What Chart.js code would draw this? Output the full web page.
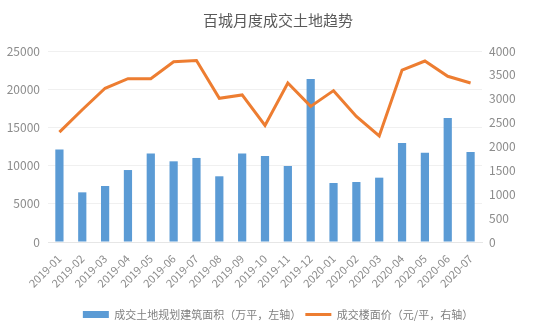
<!DOCTYPE html>
<html>
<head>
<meta charset="utf-8">
<script src="https://cdn.jsdelivr.net/npm/chart.js@4/dist/chart.umd.min.js"></script>
<style>
  html, body { margin: 0; padding: 0; background: #fff; }
  #wrap { width: 556px; height: 335px; }
</style>
</head>
<body>
<div id="wrap"><canvas id="landChart" width="556" height="335"></canvas></div>
<script>
// monthly land deals across 100 cities
const months = ['2019-01', '2019-02', '2019-03', '2019-04', '2019-05', '2019-06', '2019-07',
    '2019-08', '2019-09', '2019-10', '2019-11', '2019-12', '2020-01', '2020-02', '2020-03',
    '2020-04', '2020-05', '2020-06', '2020-07'];
// planned floor area, 10k m2 (left axis)
const areaValues = [12100, 6500, 7330, 9420, 11600, 10560, 11000, 8600, 11600, 11260,
    9950, 21330, 7720, 7850, 8420, 12960, 11690, 16230, 11780];
// floor price, yuan/m2 (right axis)
const priceValues = [2300, 2770, 3220, 3420, 3420, 3775, 3800, 3010, 3080, 2440,
    3330, 2840, 3170, 2630, 2220, 3600, 3790, 3470, 3330];

const font = '"Noto Sans CJK SC", "Noto Sans", sans-serif';
const tickColor = '#8c8c8c';

new Chart(document.getElementById('landChart'), {
    data: {
        labels: months,
        datasets: [{
            type: 'line',
            label: '成交楼面价（元/平，右轴）',
            data: priceValues,
            yAxisID: 'y1',
            borderColor: '#ED7D31',
            backgroundColor: '#ED7D31',
            borderWidth: 3,
            pointRadius: 0,
            tension: 0,
            order: 1
        }, {
            type: 'bar',
            label: '成交土地规划建筑面积（万平，左轴）',
            data: areaValues,
            yAxisID: 'y',
            backgroundColor: '#5B9BD5',
            barPercentage: 0.36,
            categoryPercentage: 1,
            order: 2
        }]
    },
    options: {
        responsive: false,
        animation: false,
        layout: { padding: { top: 4, bottom: 5 } },
        plugins: {
            title: {
                display: true,
                text: '百城月度成交土地趋势',
                color: '#595959',
                font: { family: font, size: 15, weight: 'normal' },
                padding: { top: 7, bottom: 22 }
            },
            legend: {
                position: 'bottom',
                reverse: true,
                labels: {
                    color: '#7f7f7f',
                    font: { family: font, size: 11 },
                    usePointStyle: true,
                    boxHeight: 7,
                    pointStyleWidth: 26,
                    padding: 4,
                    generateLabels(chart) {
                        const items = Chart.defaults.plugins.legend.labels.generateLabels(chart);
                        items.forEach(item => {
                            const ds = chart.data.datasets[item.datasetIndex];
                            if (ds.type === 'line') {
                                item.pointStyle = 'line';
                                item.lineWidth = 3;
                                item.strokeStyle = '#ED7D31';
                            } else {
                                item.pointStyle = 'rect';
                                item.lineWidth = 0;
                            }
                        });
                        return items;
                    }
                }
            },
            tooltip: { enabled: false }
        },
        scales: {
            x: {
                grid: { display: false },
                border: { color: '#e6e6e6' },
                ticks: {
                    color: tickColor,
                    font: { family: font, size: 11 },
                    minRotation: 45,
                    maxRotation: 45,
                    autoSkip: false,
                    padding: 2
                },
                afterFit(scale) { scale.height = 63; }
            },
            y: {
                position: 'left',
                min: 0,
                max: 25000,
                ticks: {
                    stepSize: 5000,
                    color: tickColor,
                    font: { family: font, size: 12 },
                    padding: 8,
                    callback: v => String(v)
                },
                grid: { color: '#f0f0f0', drawTicks: false },
                border: { display: false },
                afterFit(scale) { scale.width = 48; }
            },
            y1: {
                position: 'right',
                min: 0,
                max: 4000,
                ticks: {
                    stepSize: 500,
                    color: tickColor,
                    font: { family: font, size: 12 },
                    padding: 7,
                    callback: v => String(v)
                },
                grid: { display: false, drawTicks: false },
                border: { display: false },
                afterFit(scale) { scale.width = 74; }
            }
        }
    }
});
</script>
</body>
</html>
